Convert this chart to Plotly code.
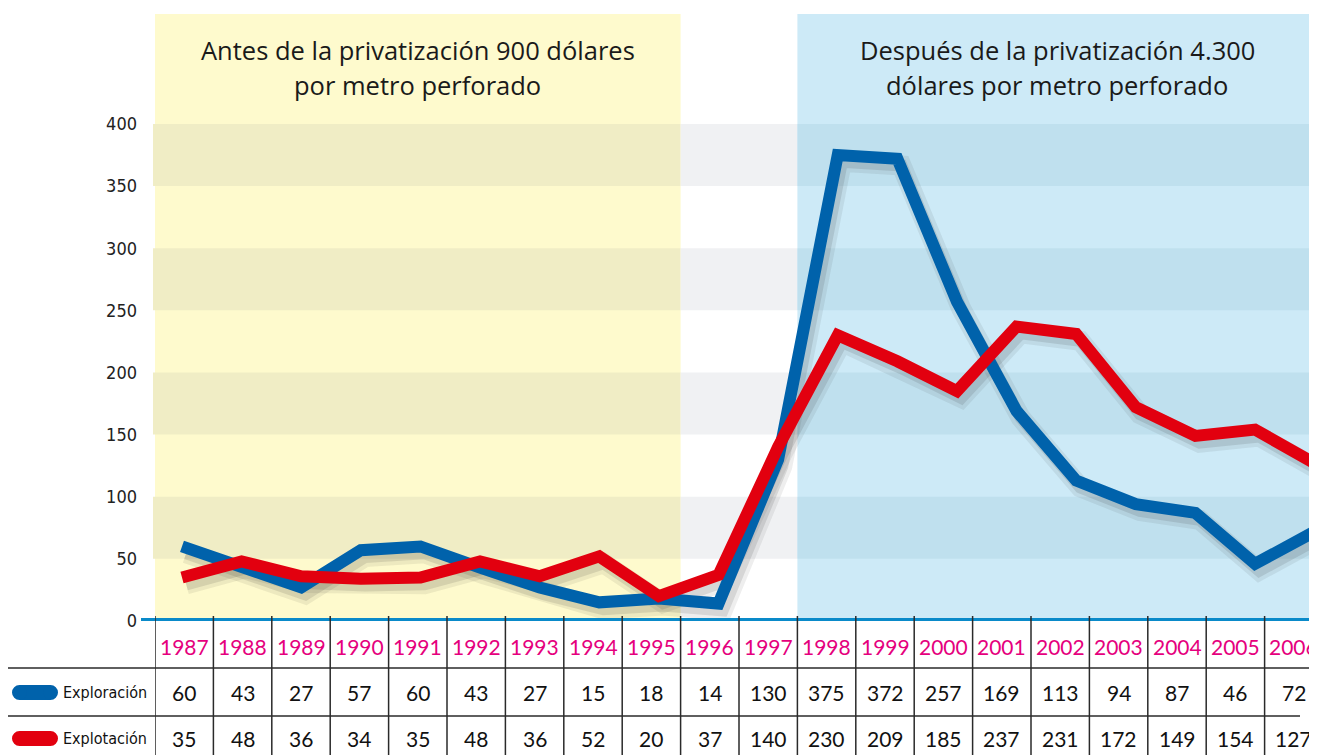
import plotly.graph_objects as go

# ---------------- data ----------------
years = list(range(1987, 2007))
exploracion = [60, 43, 27, 57, 60, 43, 27, 15, 18, 14, 130, 375, 372, 257, 169, 113, 94, 87, 46, 72]
explotacion = [35, 48, 36, 34, 35, 48, 36, 52, 20, 37, 140, 230, 209, 185, 237, 231, 172, 149, 154, 127]
y_ticks = [0, 50, 100, 150, 200, 250, 300, 350, 400]
series_names = ["Exploración", "Explotación"]
title_before = ["Antes de la privatización 900 dólares", "por metro perforado"]
title_after = ["Después de la privatización 4.300", "dólares por metro perforado"]
bands = [(50, 100), (150, 200), (250, 300), (350, 400)]
before_period = (1987, 1995)
after_period = (1998, 2006)

# ---------------- styling ----------------
# page body has an 8px margin, so the figure is offset by 8px in the page
OFF = 8
W_REF, H_REF = 1317, 755
L_REF, T_REF, B_REF = 155, 14, 134
W = W_REF - OFF
H = H_REF - OFF
PW = W_REF - L_REF
PH = H_REF - T_REF - B_REF
Y_TOP = 488.5
COL_W = 58.4
BLUE = "#0062ab"
RED = "#e2000f"
MAGENTA = "#e5007d"
AXIS_BLUE = "#0a8ac9"
COND = "Liberation Sans Narrow, DejaVu Sans Condensed, Arial Narrow, sans-serif"
NUM = "Lato, Open Sans, sans-serif"
MAIN = "Open Sans, Lato, sans-serif"

x_line_range = [1986.547, 2006.04]
x_col_range = [1986.5, 1986.5 + PW / COL_W]


def px(p):  # reference pixel x -> paper
    return (p - L_REF) / PW


def py(p):  # reference pixel y -> paper
    return (H_REF - B_REF - p) / PH


def col_paper(v):
    return (v - x_col_range[0]) / (x_col_range[1] - x_col_range[0])


def val_paper(v):
    return v / Y_TOP


fig = go.Figure()

# shadows (base axes, shifted)
sx = 0.07
sy = 5.5
for vals in [exploracion, explotacion]:
    fig.add_trace(go.Scatter(x=years, y=vals, mode="lines", xaxis="x", yaxis="y",
                             line=dict(color="rgba(40,40,40,0.08)", width=20),
                             hoverinfo="skip", showlegend=False))
    fig.add_trace(go.Scatter(x=years, y=vals, mode="lines", xaxis="x", yaxis="y",
                             line=dict(color="rgba(40,40,40,0.12)", width=12),
                             hoverinfo="skip", showlegend=False))

# main lines
fig.add_trace(go.Scatter(x=years, y=exploracion, mode="lines", name=series_names[0],
                         xaxis="x3", yaxis="y2", line=dict(color=BLUE, width=12), showlegend=False))
fig.add_trace(go.Scatter(x=years, y=explotacion, mode="lines", name=series_names[1],
                         xaxis="x3", yaxis="y2", line=dict(color=RED, width=12), showlegend=False))

shapes = []
b0 = col_paper(before_period[0] - 0.5)
b1 = col_paper(before_period[1] + 0.5)
a0 = col_paper(after_period[0] - 0.5)
shapes.append(dict(type="rect", xref="paper", yref="paper", x0=b0, x1=b1, y0=0, y1=1,
                   fillcolor="#fefacd", line_width=0, layer="below"))
shapes.append(dict(type="rect", xref="paper", yref="paper", x0=a0, x1=1, y0=0, y1=1,
                   fillcolor="#cdeaf7", line_width=0, layer="below"))
for lo, hi in bands:
    for x0, x1, c in [(px(153), b1, "#f0edc5"), (b1, a0, "#f0f1f3"), (a0, 1, "#bfe0ee")]:
        shapes.append(dict(type="rect", xref="paper", yref="paper", x0=x0, x1=x1,
                           y0=val_paper(lo), y1=val_paper(hi), fillcolor=c, line_width=0, layer="below"))

# zero axis line
shapes.append(dict(type="line", xref="paper", yref="y2", x0=px(141), x1=1, y0=0, y1=0,
                   line=dict(color=AXIS_BLUE, width=6), layer="above"))

# table grid
for k in range(len(years)):
    xv = years[0] - 0.5 + k
    shapes.append(dict(type="line", xref="x2", yref="paper", x0=xv, x1=xv, y0=py(616), y1=py(760),
                       line=dict(color="#2a2a2a", width=1.5), layer="above"))
shapes.append(dict(type="line", xref="paper", yref="paper", x0=px(5), x1=1, y0=py(668), y1=py(668),
                   line=dict(color="#2a2a2a", width=1.5)))
shapes.append(dict(type="line", xref="paper", yref="paper", x0=px(5), x1=px(1300), y0=py(716), y1=py(716),
                   line=dict(color="#2a2a2a", width=1.5)))
shapes.append(dict(type="line", xref="paper", yref="paper", x0=px(5), x1=px(5), y0=py(668), y1=py(760),
                   line=dict(color="#2a2a2a", width=1.5)))

# legend pills
for cy, c in [(692.5, BLUE), (738.5, RED)]:
    r = 7.5
    shapes.append(dict(type="rect", xref="paper", yref="paper", x0=px(19.5), x1=px(50.5),
                       y0=py(cy + r), y1=py(cy - r), fillcolor=c, line_width=0))
    for cx in (19.5, 50.5):
        shapes.append(dict(type="circle", xref="paper", yref="paper", x0=px(cx - r), x1=px(cx + r),
                           y0=py(cy + r), y1=py(cy - r), fillcolor=c, line_width=0))

annotations = []
for i, yr in enumerate(years):
    annotations.append(dict(x=yr, y=py(646), xref="x2", yref="paper", text=str(yr), showarrow=False,
                            xanchor="center", yanchor="middle",
                            font=dict(family=NUM, size=21, color=MAGENTA)))
    annotations.append(dict(x=yr, y=py(692), xref="x2", yref="paper", text=str(exploracion[i]),
                            showarrow=False, xanchor="center", yanchor="middle",
                            font=dict(family=NUM, size=21, color="#111")))
    annotations.append(dict(x=yr, y=py(738), xref="x2", yref="paper", text=str(explotacion[i]),
                            showarrow=False, xanchor="center", yanchor="middle",
                            font=dict(family=NUM, size=21, color="#111")))
for name, cy in [(series_names[0], 692), (series_names[1], 738)]:
    annotations.append(dict(x=px(61), y=py(cy), xref="paper", yref="paper", text=name, xanchor="left",
                            yanchor="middle", showarrow=False,
                            font=dict(family=COND, size=16, color="#111")))

cb = (before_period[0] - 0.5 + before_period[1] + 0.5) / 2
ca = (after_period[0] - 0.5 + x_col_range[1]) / 2
for txts, cx in [(title_before, cb), (title_after, ca)]:
    for t, yy in zip(txts, [50, 85]):
        annotations.append(dict(x=cx, y=py(yy), xref="x2", yref="paper", text=t, showarrow=False,
                                xanchor="center", yanchor="middle",
                                font=dict(family=MAIN, size=25.5, color="#1a1a1a")))

fig.update_layout(
    width=W, height=H,
    margin=dict(l=L_REF - OFF, r=0, t=T_REF - OFF, b=H - (T_REF - OFF) - PH, pad=0),
    paper_bgcolor="white", plot_bgcolor="rgba(0,0,0,0)",
    showlegend=False,
    xaxis=dict(range=[x_line_range[0] - sx, x_line_range[1] - sx], visible=False, domain=[0, 1]),
    yaxis=dict(range=[sy, Y_TOP + sy], visible=False, domain=[0, 1]),
    xaxis2=dict(range=x_col_range, visible=False, overlaying="x", anchor="y"),
    xaxis3=dict(range=x_line_range, visible=False, overlaying="x", anchor="y2"),
    yaxis2=dict(range=[0, Y_TOP], overlaying="y", side="left", tickvals=y_ticks,
                ticktext=[str(v) for v in y_ticks], showgrid=False, zeroline=False, showline=False,
                ticks="", ticklabelstandoff=17, tickfont=dict(family=COND, size=18, color="#222")),
    shapes=shapes,
    annotations=annotations,
)

fig.write_html("out.html")
